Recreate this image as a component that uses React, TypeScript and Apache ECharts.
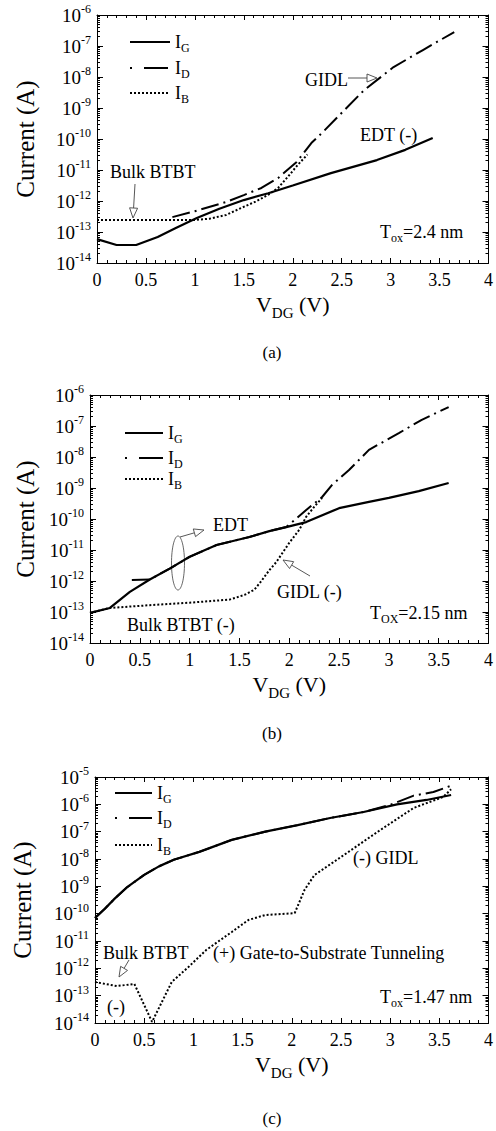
import React, { useEffect, useRef } from "react";
import * as echarts from "echarts";

const FONT = "Liberation Serif, Times New Roman, serif";

// x ticks (V_DG, V)
const xMin = 0;
const xMax = 4;
const xInterval = 0.5;

// ---------- Panel (a): Tox = 2.4 nm (values are log10 of current in A) ----------
const vA_IG = [0, 0.2, 0.4, 0.62, 0.8, 1.02, 1.25, 1.5, 1.75, 2.0, 2.39, 2.86, 3.15, 3.43];
const logA_IG = [-13.23, -13.42, -13.42, -13.16, -12.88, -12.55, -12.25, -11.97, -11.75, -11.5, -11.1, -10.68, -10.35, -9.97];
const vA_ID = [0.77, 1.0, 1.32, 1.5, 1.68, 1.85, 2.04, 2.19, 2.31, 2.53, 2.73, 3.03, 3.33, 3.65];
const logA_ID = [-12.52, -12.33, -12.03, -11.81, -11.58, -11.26, -10.74, -10.13, -9.77, -9.06, -8.42, -7.68, -7.13, -6.55];
const vA_IB = [0, 0.5, 1.0, 1.15, 1.32, 1.47, 1.62, 1.75, 1.85, 1.95, 2.05, 2.15];
const logA_IB = [-12.61, -12.61, -12.61, -12.57, -12.45, -12.23, -12.02, -11.8, -11.58, -11.22, -10.84, -10.5];

// ---------- Panel (b): Tox = 2.15 nm ----------
const vB_IG = [0, 0.2, 0.4, 0.6, 0.8, 1.0, 1.27, 1.6, 1.8, 1.97, 2.17, 2.5, 2.8, 3.0, 3.3, 3.6];
const logB_IG = [-13.03, -12.87, -12.35, -11.95, -11.6, -11.22, -10.84, -10.58, -10.39, -10.26, -10.1, -9.65, -9.45, -9.32, -9.1, -8.84];
const vB_ID = [0.42, 0.6, 0.8, 1.0, 1.27, 1.6, 1.8, 1.97, 2.17, 2.33, 2.43, 2.6, 2.8, 3.1, 3.33, 3.6];
const logB_ID = [-11.97, -11.95, -11.6, -11.22, -10.84, -10.58, -10.39, -10.26, -9.71, -9.29, -8.9, -8.42, -7.77, -7.23, -6.8, -6.39];
const vB_IB = [0, 0.2, 0.6, 1.0, 1.4, 1.55, 1.65, 1.72, 1.8, 1.87, 2.0, 2.1, 2.17, 2.25, 2.33];
const logB_IB = [-13.03, -12.87, -12.78, -12.7, -12.6, -12.45, -12.28, -12.0, -11.65, -11.39, -10.77, -10.35, -9.93, -9.61, -9.32];

// ---------- Panel (c): Tox = 1.47 nm ----------
const vC_IG = [0, 0.1, 0.2, 0.32, 0.5, 0.65, 0.8, 1.06, 1.39, 1.73, 2.06, 2.39, 2.73, 3.07, 3.37, 3.62];
const logC_IG = [-10.16, -9.82, -9.45, -9.05, -8.58, -8.27, -8.03, -7.74, -7.3, -7.0, -6.76, -6.5, -6.28, -6.0, -5.84, -5.66];
const vC_ID = [0, 0.1, 0.2, 0.32, 0.5, 0.65, 0.8, 1.06, 1.39, 1.73, 2.06, 2.39, 2.73, 3.0, 3.24, 3.44, 3.64];
const logC_ID = [-10.16, -9.82, -9.45, -9.05, -8.58, -8.27, -8.03, -7.74, -7.3, -7.0, -6.76, -6.5, -6.28, -6.02, -5.68, -5.55, -5.29];
const vC_IB = [0, 0.22, 0.4, 0.58, 0.78, 0.95, 1.13, 1.39, 1.56, 1.73, 2.03, 2.13, 2.23, 2.56, 2.9, 3.24, 3.54, 3.62];
const logC_IB = [-12.5, -12.65, -12.57, -13.96, -12.5, -11.95, -11.33, -10.67, -10.23, -10.05, -9.98, -9.13, -8.59, -7.78, -6.94, -6.13, -5.73, -5.45];

// y-axis ranges (A)
const yMinAB = 1e-14;
const yMaxAB = 1e-6;
const yMinC = 1e-14;
const yMaxC = 1e-5;

const seriesNames = ["IG", "ID", "IB"];

const toPairs = (v: number[], lg: number[]) => v.map((x, i) => [x, Math.pow(10, lg[i])]);

const grids = [
  { left: 97, top: 15, width: 396, height: 248, yMin: yMinAB, yMax: yMaxAB, nameGapY: 59 },
  { left: 90, top: 395, width: 400, height: 248, yMin: yMinAB, yMax: yMaxAB, nameGapY: 52 },
  { left: 95, top: 777, width: 398, height: 246, yMin: yMinC, yMax: yMaxC, nameGapY: 60 },
];

const panelData = [
  [toPairs(vA_IG, logA_IG), toPairs(vA_ID, logA_ID), toPairs(vA_IB, logA_IB)],
  [toPairs(vB_IG, logB_IG), toPairs(vB_ID, logB_ID), toPairs(vB_IB, logB_IB)],
  [toPairs(vC_IG, logC_IG), toPairs(vC_ID, logC_ID), toPairs(vC_IB, logC_IB)],
];

const lineStyles = [
  { color: "#000", width: 2.2, type: "solid" },
  { color: "#000", width: 2, type: [18, 5, 2, 5] },
  { color: "#000", width: 2, type: [2, 2] },
];

const legendDash = [null, [2, 12, 24, 10], [2, 2]];

function arrow(x1: number, y1: number, x2: number, y2: number) {
  const dx = x2 - x1;
  const dy = y2 - y1;
  const L = Math.sqrt(dx * dx + dy * dy);
  const ux = dx / L;
  const uy = dy / L;
  const hl = 10;
  const hw = 4;
  const bx = x2 - ux * hl;
  const by = y2 - uy * hl;
  const nx = -uy;
  const ny = ux;
  return {
    type: "group",
    children: [
      { type: "line", shape: { x1, y1, x2: bx, y2: by }, style: { stroke: "#444", lineWidth: 0.9 } },
      {
        type: "polygon",
        shape: { points: [[x2, y2], [bx + nx * hw, by + ny * hw], [bx - nx * hw, by - ny * hw]] },
        style: { stroke: "#444", fill: "#fff", lineWidth: 0.9 },
      },
    ],
  };
}

function txt(text: string, x: number, y: number, size = 18, align = "left") {
  return {
    type: "text",
    style: {
      text,
      x,
      y,
      fill: "#000",
      font: `${size}px ${FONT}`,
      textAlign: align,
      textVerticalAlign: "middle",
      rich: {
        sub: { fontSize: 12, fontFamily: FONT, fill: "#000", verticalAlign: "bottom", padding: [12, 0, 0, 0] },
      },
    },
  };
}

function legendBlock(x1: number, x2: number, ys: number[]) {
  const out: any[] = [];
  ys.forEach((y, k) => {
    const st: any = { stroke: "#000", lineWidth: k === 0 ? 2.2 : 2 };
    if (legendDash[k]) st.lineDash = legendDash[k];
    out.push({ type: "line", shape: { x1, y1: y, x2, y2: y }, style: st });
    out.push(txt(`I{sub|${seriesNames[k].slice(1)}}`, x2 + 5, y));
  });
  return out;
}

export default function App() {
  const ref = useRef<HTMLDivElement>(null);
  useEffect(() => {
    if (!ref.current) return;
    const chart = echarts.init(ref.current, undefined, { renderer: "svg" });

    const xAxes: any[] = [];
    const yAxes: any[] = [];
    grids.forEach((g, i) => {
      const common = {
        gridIndex: i,
        type: "value",
        min: xMin,
        max: xMax,
        interval: xInterval,
        axisLine: { show: true, onZero: false, lineStyle: { color: "#000", width: 1 } },
        axisTick: { show: true, inside: true, length: 5, lineStyle: { color: "#000" } },
        minorTick: { show: true, splitNumber: 5, length: 3, lineStyle: { color: "#000" } },
        splitLine: { show: false },
      };
      xAxes.push({
        ...common,
        position: "bottom",
        axisLabel: { color: "#000", fontFamily: FONT, fontSize: 18, margin: 8, formatter: (v: number) => String(v) },
        name: "V{sub|DG} (V)",
        nameLocation: "middle",
        nameGap: 26,
        nameTextStyle: {
          color: "#000",
          fontFamily: FONT,
          fontSize: 22,
          rich: { sub: { fontSize: 15, fontFamily: FONT, color: "#000", verticalAlign: "bottom", padding: [16, 0, 0, 0] } },
        },
      });
      xAxes.push({ ...common, position: "top", axisLabel: { show: false } });

      const ycommon = {
        gridIndex: i,
        type: "log",
        logBase: 10,
        min: g.yMin,
        max: g.yMax,
        axisLine: { show: true, onZero: false, lineStyle: { color: "#000", width: 1 } },
        axisTick: { show: true, inside: true, length: 6, lineStyle: { color: "#000" } },
        minorTick: { show: true, splitNumber: 9, length: 3, lineStyle: { color: "#000" } },
        splitLine: { show: false },
      };
      yAxes.push({
        ...ycommon,
        position: "left",
        axisLabel: {
          color: "#000",
          fontFamily: FONT,
          fontSize: 17,
          margin: 6,
          formatter: (v: number) => `{b|10}{sup|${Math.round(Math.log10(v))}}`,
          rich: {
            b: { fontSize: 19, fontFamily: FONT, color: "#000", lineHeight: 24 },
            sup: { fontSize: 12, fontFamily: FONT, color: "#000", verticalAlign: "top", lineHeight: 12 },
          },
        },
        name: "Current (A)",
        nameLocation: "middle",
        nameGap: g.nameGapY,
        nameTextStyle: { color: "#000", fontFamily: FONT, fontSize: 25 },
      });
      yAxes.push({ ...ycommon, position: "right", axisLabel: { show: false } });
    });

    const series: any[] = [];
    panelData.forEach((pd, i) => {
      pd.forEach((data, k) => {
        series.push({
          type: "line",
          name: seriesNames[k],
          xAxisIndex: 2 * i,
          yAxisIndex: 2 * i,
          data,
          symbol: "none",
          showSymbol: false,
          itemStyle: { color: "#000" },
          lineStyle: lineStyles[k],
          z: 3 - k,
        });
      });
    });

    const graphic: any[] = [
      // legends
      ...legendBlock(130, 170, [42, 68, 93]),
      ...legendBlock(125, 163, [433, 458, 479]),
      ...legendBlock(115, 152, [793, 818, 845]),
      // panel (a)
      txt("GIDL", 305, 80),
      arrow(348, 78, 377, 78),
      txt("EDT (-)", 360, 135),
      txt("Bulk BTBT", 110, 172),
      arrow(135, 184, 133, 218),
      txt("T{sub|ox}=2.4 nm", 380, 232),
      txt("(a)", 272, 352, 17, "center"),
      // panel (b)
      txt("EDT", 213, 525),
      { type: "ellipse", shape: { cx: 178, cy: 563, rx: 6.5, ry: 27 }, style: { fill: "none", stroke: "#555", lineWidth: 0.9 } },
      arrow(180, 537, 204, 530),
      txt("GIDL (-)", 277, 592),
      arrow(310, 576, 283, 560),
      txt("Bulk BTBT (-)", 127, 625),
      txt("T{sub|OX}=2.15 nm", 370, 613),
      txt("(b)", 272, 733, 17, "center"),
      // panel (c)
      txt("(-) GIDL", 353, 858),
      txt("Bulk BTBT", 103, 953),
      txt("(+) Gate-to-Substrate Tunneling", 213, 953),
      arrow(129, 960, 119, 977),
      txt("(-)", 107, 1007),
      txt("T{sub|ox}=1.47 nm", 380, 997),
      txt("(c)", 272, 1118, 17, "center"),
    ];

    chart.setOption({
      animation: false,
      backgroundColor: "#fff",
      grid: grids.map((g) => ({ left: g.left, top: g.top, width: g.width, height: g.height, containLabel: false })),
      xAxis: xAxes,
      yAxis: yAxes,
      series,
      graphic,
    });
    return () => chart.dispose();
  }, []);
  return <div ref={ref} style={{ position: "absolute", left: 0, top: 0, width: 496, height: 1131 }} />;
}
